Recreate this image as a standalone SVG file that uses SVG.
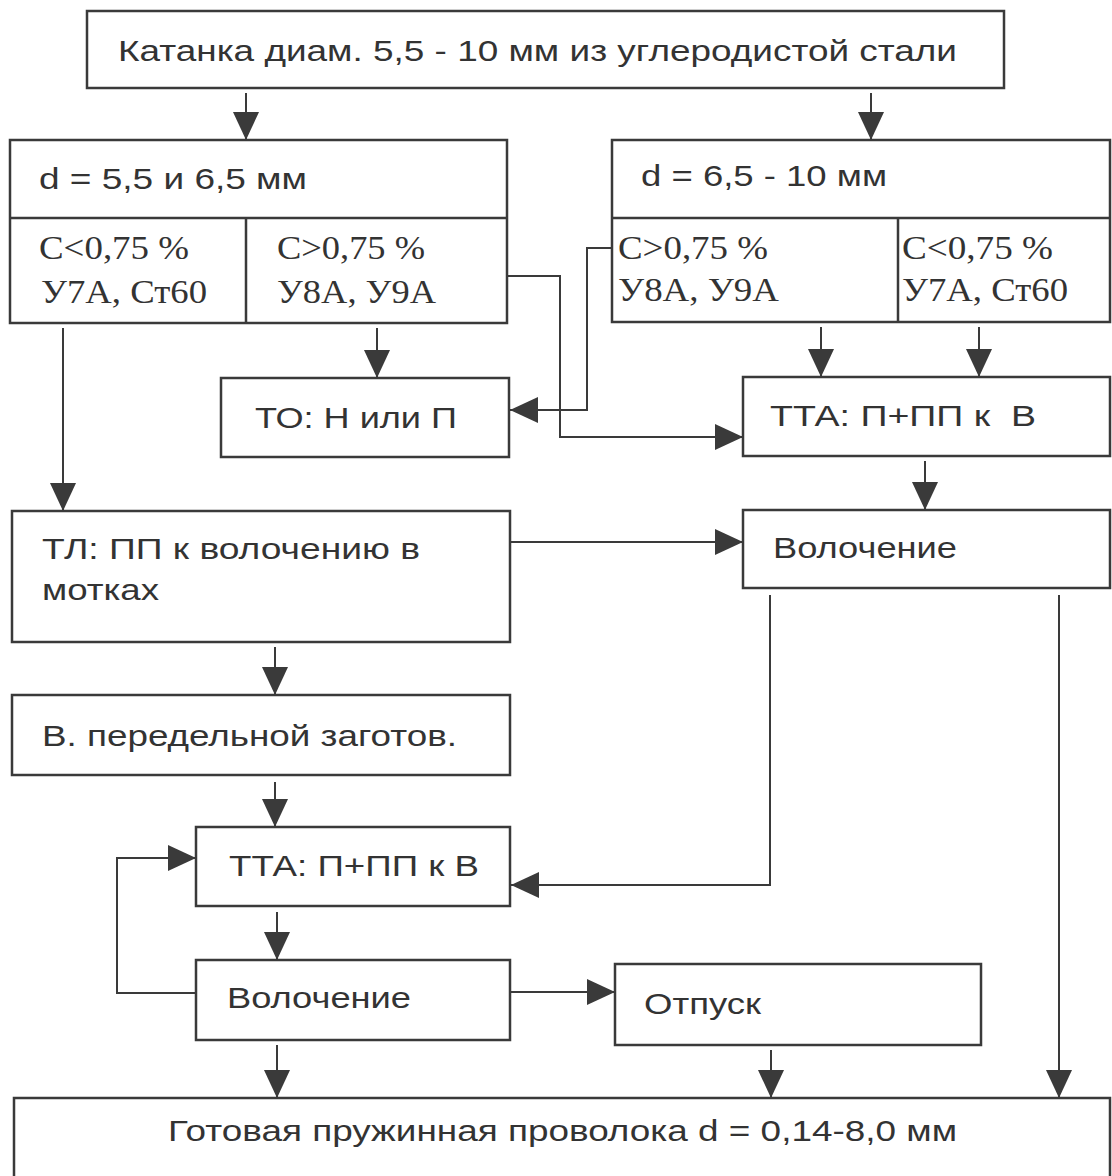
<svg xmlns="http://www.w3.org/2000/svg" width="1112" height="1176" viewBox="0 0 1112 1176">
<style>
.box{fill:#fff;stroke:#3a3a3a;stroke-width:2.5}
.div{stroke:#3a3a3a;stroke-width:2.5;fill:none}
.t{font-family:"Liberation Sans",Arial,sans-serif;font-size:30px;fill:#333;white-space:pre}
.s{font-family:"Liberation Serif","Times New Roman",serif;font-size:33px;fill:#333}
.c{fill:none;stroke:#3a3a3a;stroke-width:2}
</style>
<defs>
<marker id="ah" markerUnits="userSpaceOnUse" markerWidth="28" markerHeight="26" viewBox="0 0 28 26" refX="28" refY="13" orient="auto">
<path d="M0,0 L28,13 L0,26 z" fill="#3a3a3a"/>
</marker>
</defs>
<rect width="1112" height="1176" fill="#fff"/>

<g id="connectors">
<path class="c" d="M246,93 V140" marker-end="url(#ah)"/>
<path class="c" d="M871,93 V140" marker-end="url(#ah)"/>
<path class="c" d="M63,328 V511" marker-end="url(#ah)"/>
<path class="c" d="M377,328 V378" marker-end="url(#ah)"/>
<path class="c" d="M507,276 H560 V437 H743" marker-end="url(#ah)"/>
<path class="c" d="M612,248 H587 V410 H510" marker-end="url(#ah)"/>
<path class="c" d="M821,327 V377" marker-end="url(#ah)"/>
<path class="c" d="M979,327 V377" marker-end="url(#ah)"/>
<path class="c" d="M925,461 V510" marker-end="url(#ah)"/>
<path class="c" d="M510,542 H743" marker-end="url(#ah)"/>
<path class="c" d="M275,647 V695" marker-end="url(#ah)"/>
<path class="c" d="M275,782 V827" marker-end="url(#ah)"/>
<path class="c" d="M770,595 V885 H511" marker-end="url(#ah)"/>
<path class="c" d="M1059,595 V1098" marker-end="url(#ah)"/>
<path class="c" d="M277,912 V960" marker-end="url(#ah)"/>
<path class="c" d="M196,993 H117 V858 H196" marker-end="url(#ah)"/>
<path class="c" d="M510,992 H615" marker-end="url(#ah)"/>
<path class="c" d="M277,1045 V1098" marker-end="url(#ah)"/>
<path class="c" d="M771,1050 V1098" marker-end="url(#ah)"/>
</g>

<g id="n-top">
<rect class="box" x="87" y="11" width="917" height="77"/>
<text class="t" x="118" y="61" textLength="839" lengthAdjust="spacingAndGlyphs">Катанка диам. 5,5 - 10 мм из углеродистой стали</text>
</g>

<g id="n-left">
<rect class="box" x="10" y="140" width="497" height="183"/>
<path class="div" d="M10,218 H507 M246,218 V323"/>
<text class="t" x="39" y="189" textLength="268" lengthAdjust="spacingAndGlyphs">d = 5,5 и 6,5 мм</text>
<text class="s" x="39" y="259" textLength="150" lengthAdjust="spacingAndGlyphs">C&lt;0,75 %</text>
<text class="s" x="41" y="303" textLength="166" lengthAdjust="spacingAndGlyphs">У7А, Ст60</text>
<text class="s" x="277" y="259" textLength="148" lengthAdjust="spacingAndGlyphs">C&gt;0,75 %</text>
<text class="s" x="277" y="303" textLength="159" lengthAdjust="spacingAndGlyphs">У8А, У9А</text>
</g>

<g id="n-right">
<rect class="box" x="612" y="140" width="498" height="182"/>
<path class="div" d="M612,218 H1110 M898,218 V322"/>
<text class="t" x="641" y="186" textLength="246" lengthAdjust="spacingAndGlyphs">d = 6,5 - 10 мм</text>
<text class="s" x="618" y="259" textLength="150" lengthAdjust="spacingAndGlyphs">C&gt;0,75 %</text>
<text class="s" x="618" y="301" textLength="161" lengthAdjust="spacingAndGlyphs">У8А, У9А</text>
<text class="s" x="902" y="259" textLength="151" lengthAdjust="spacingAndGlyphs">C&lt;0,75 %</text>
<text class="s" x="902" y="301" textLength="166" lengthAdjust="spacingAndGlyphs">У7А, Ст60</text>
</g>

<g id="n-to">
<rect class="box" x="221" y="378" width="288" height="79"/>
<text class="t" x="255" y="428" textLength="202" lengthAdjust="spacingAndGlyphs">ТО: Н или П</text>
</g>

<g id="n-tta1">
<rect class="box" x="743" y="377" width="367" height="79"/>
<text class="t" x="770" y="426" textLength="266" lengthAdjust="spacingAndGlyphs">ТТА: П+ПП к  В</text>
</g>

<g id="n-tl">
<rect class="box" x="12" y="511" width="498" height="131"/>
<text class="t" x="42" y="559" textLength="378" lengthAdjust="spacingAndGlyphs">ТЛ: ПП к волочению в</text>
<text class="t" x="42" y="600" textLength="117" lengthAdjust="spacingAndGlyphs">мотках</text>
</g>

<g id="n-vol1">
<rect class="box" x="743" y="510" width="367" height="78"/>
<text class="t" x="773" y="558" textLength="184" lengthAdjust="spacingAndGlyphs">Волочение</text>
</g>

<g id="n-vper">
<rect class="box" x="12" y="695" width="498" height="80"/>
<text class="t" x="42" y="746" textLength="415" lengthAdjust="spacingAndGlyphs">В. передельной заготов.</text>
</g>

<g id="n-tta2">
<rect class="box" x="196" y="827" width="314" height="79"/>
<text class="t" x="229" y="876" textLength="250" lengthAdjust="spacingAndGlyphs">ТТА: П+ПП к В</text>
</g>

<g id="n-vol2">
<rect class="box" x="196" y="960" width="314" height="80"/>
<text class="t" x="227" y="1008" textLength="184" lengthAdjust="spacingAndGlyphs">Волочение</text>
</g>

<g id="n-otp">
<rect class="box" x="615" y="964" width="366" height="81"/>
<text class="t" x="644" y="1014" textLength="117" lengthAdjust="spacingAndGlyphs">Отпуск</text>
</g>

<g id="n-final">
<rect class="box" x="14" y="1098" width="1096" height="90"/>
<text class="t" x="168" y="1141" textLength="789" lengthAdjust="spacingAndGlyphs">Готовая пружинная проволока d = 0,14-8,0 мм</text>
</g>
</svg>
